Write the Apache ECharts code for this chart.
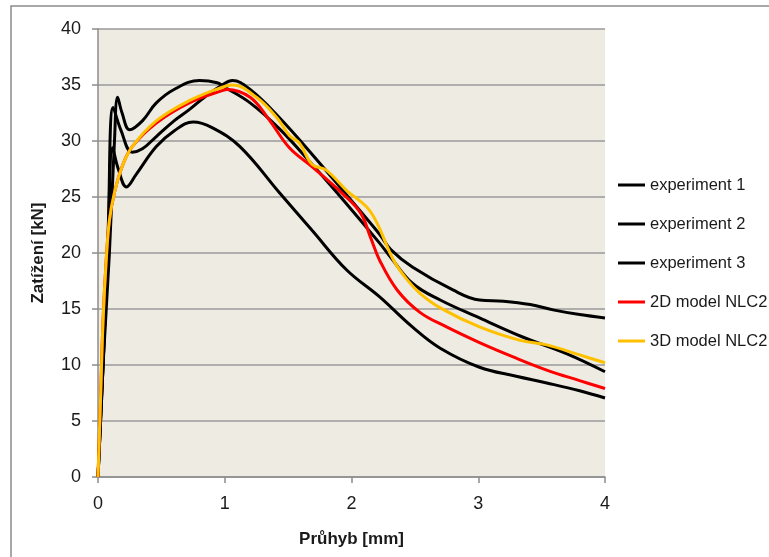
<!DOCTYPE html>
<html>
<head>
<meta charset="utf-8">
<script src="https://cdn.jsdelivr.net/npm/echarts@6/dist/echarts.min.js"></script>
<style>html,body{margin:0;padding:0;background:#fff}#c{width:769px;height:557px}</style>
</head>
<body>
<div id="c"></div>
<script>
var seriesNames = ['experiment 1', 'experiment 2', 'experiment 3', '2D model NLC2', '3D model NLC2'];
var xTicks = [0, 1, 2, 3, 4];
var yTicks = [0, 5, 10, 15, 20, 25, 30, 35, 40];

var exp1X = [0, 0.04, 0.09, 0.13, 0.155, 0.19, 0.25, 0.35, 0.46, 0.6, 0.8, 0.94, 1.0, 1.2, 1.43, 1.69, 1.96, 2.22, 2.31, 2.48, 2.70, 3.01, 3.35, 3.7, 4.0];
var exp1Y = [0, 10, 20, 30, 33.9, 32.5, 31.0, 31.8, 33.4, 34.6, 35.4, 35.2, 34.8, 33.4, 31.1, 27.9, 24.4, 20.9, 19.6, 17.3, 15.8, 14.2, 12.5, 11.0, 9.4];

var exp2X = [0, 0.04, 0.08, 0.12, 0.18, 0.27, 0.35, 0.46, 0.6, 0.72, 0.85, 0.98, 1.06, 1.2, 1.43, 1.69, 1.96, 2.22, 2.31, 2.48, 2.8, 3.01, 3.2, 3.41, 3.6, 3.8, 4.0];
var exp2Y = [0, 10, 22, 33.0, 31.0, 29.0, 29.3, 30.4, 31.8, 32.8, 34.0, 35.0, 35.4, 34.6, 32.1, 28.8, 25.2, 21.7, 20.3, 18.75, 16.7, 15.8, 15.7, 15.4, 14.9, 14.5, 14.2];

var exp3X = [0, 0.04, 0.08, 0.115, 0.16, 0.225, 0.3, 0.46, 0.6, 0.75, 0.9, 1.12, 1.43, 1.69, 1.96, 2.22, 2.48, 2.70, 3.01, 3.3, 3.54, 3.8, 4.0];
var exp3Y = [0, 10, 21, 29.4, 27.5, 25.9, 27.0, 29.5, 30.9, 31.7, 31.2, 29.5, 25.4, 22.0, 18.5, 16.1, 13.4, 11.5, 9.8, 9.0, 8.4, 7.7, 7.05];

var m2dX = [0, 0.02, 0.04, 0.065, 0.09, 0.13, 0.19, 0.27, 0.46, 0.72, 0.98, 1.02, 1.2, 1.35, 1.51, 1.69, 1.93, 2.07, 2.15, 2.22, 2.36, 2.54, 2.75, 3.01, 3.28, 3.54, 3.8, 4.0];
var m2dY = [0, 7, 14, 19.4, 22.9, 25.4, 27.7, 29.5, 31.6, 33.4, 34.5, 34.6, 33.9, 31.9, 29.4, 27.7, 25.3, 23.6, 21.4, 19.4, 16.7, 14.7, 13.4, 12.0, 10.7, 9.55, 8.6, 7.9];

var m3dX = [0, 0.02, 0.04, 0.065, 0.09, 0.13, 0.19, 0.27, 0.46, 0.72, 0.98, 1.06, 1.25, 1.41, 1.51, 1.59, 1.69, 1.80, 1.96, 2.12, 2.20, 2.33, 2.44, 2.54, 2.70, 3.01, 3.33, 3.54, 3.8, 4.0];
var m3dY = [0, 7, 14, 19.4, 22.9, 25.4, 27.7, 29.5, 31.8, 33.6, 34.8, 35.0, 33.9, 32.1, 30.5, 29.8, 27.9, 27.4, 25.6, 24.1, 22.7, 19.4, 17.6, 16.4, 15.1, 13.4, 12.2, 11.8, 10.9, 10.2];

var colors = ['#000000', '#000000', '#000000', '#FF0000', '#FFC000'];
var xs = [exp1X, exp2X, exp3X, m2dX, m3dX];
var ys = [exp1Y, exp2Y, exp3Y, m2dY, m3dY];

function pairs(a, b) { return a.map(function (v, i) { return [v, b[i]]; }); }

var FONT = 'Liberation Sans';
var chart = echarts.init(document.getElementById('c'));
var series = seriesNames.map(function (n, i) {
  return {
    name: n, type: 'line', data: pairs(xs[i], ys[i]),
    smooth: 0.4, symbol: 'none', showSymbol: false,
    lineStyle: { color: colors[i], width: 3 }, itemStyle: { color: colors[i] },
    z: 2 + i, animation: false
  };
});

chart.setOption({
  animation: false,
  graphic: [{
    type: 'rect', shape: { x: 11, y: 6, width: 800, height: 600 },
    style: { fill: 'none', stroke: '#8c8c8c', lineWidth: 1.5 }, z: -10, silent: true
  }],
  grid: { left: 98, right: 164, top: 29, bottom: 80, show: true, backgroundColor: '#EEECE2', borderWidth: 0 },
  legend: {
    orient: 'vertical', left: 618, top: 175, padding: 0, itemWidth: 27, itemHeight: 20, itemGap: 19,
    icon: 'path://M0,8.5 L27,8.5 L27,11.5 L0,11.5 Z',
    textStyle: { fontFamily: FONT, fontSize: 16.5, color: '#1a1a1a', lineHeight: 20 },
    data: seriesNames.map(function (n, i) { return { name: n, itemStyle: { color: colors[i] } }; })
  },
  xAxis: {
    type: 'value', min: xTicks[0], max: xTicks[xTicks.length - 1], interval: 1,
    name: 'Průhyb [mm]', nameLocation: 'middle', nameGap: 54,
    nameTextStyle: { fontFamily: FONT, fontSize: 17, fontWeight: 'bold', color: '#1a1a1a' },
    axisLine: { lineStyle: { color: '#8c8c8c', width: 1.5 } },
    axisTick: { show: true, length: 6, inside: false, lineStyle: { color: '#8c8c8c', width: 1.5 } },
    axisLabel: { fontFamily: FONT, fontSize: 18, color: '#1a1a1a', margin: 18 },
    splitLine: { show: false }
  },
  yAxis: {
    type: 'value', min: yTicks[0], max: yTicks[yTicks.length - 1], interval: 5,
    name: 'Zatížení [kN]', nameLocation: 'middle', nameGap: 51, nameRotate: 90,
    nameTextStyle: { fontFamily: FONT, fontSize: 17, fontWeight: 'bold', color: '#1a1a1a' },
    axisLine: { show: true, lineStyle: { color: '#8c8c8c', width: 1.5 } },
    axisTick: { show: true, length: 6, inside: false, lineStyle: { color: '#8c8c8c', width: 1.5 } },
    axisLabel: { fontFamily: FONT, fontSize: 18, color: '#1a1a1a', margin: 17 },
    splitLine: { show: true, lineStyle: { color: '#9a9a9a', width: 1.5 } }
  },
  series: series
});
</script>
</body>
</html>
